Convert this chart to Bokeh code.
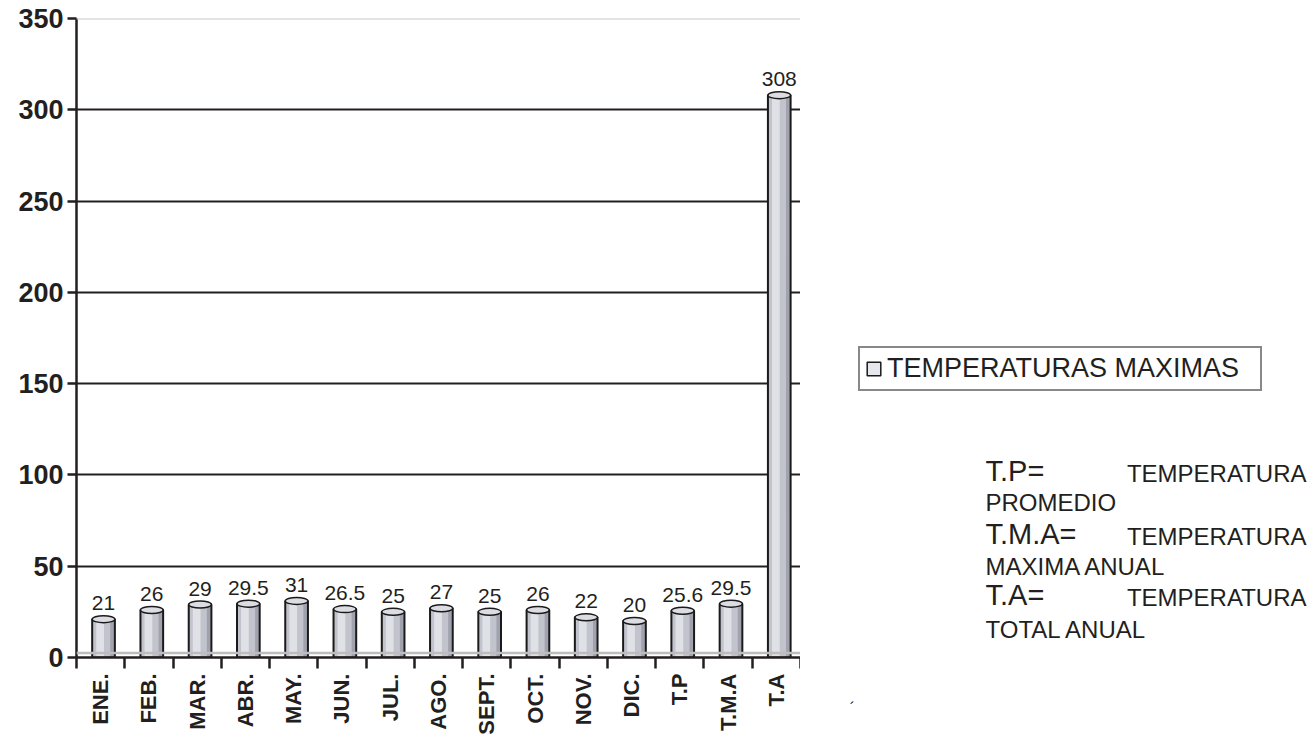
import math
from bokeh.plotting import figure
from bokeh.layouts import row
from bokeh.models import (ColumnDataSource, Range1d, FixedTicker, Span, Label,
                          Legend, LegendItem, LinearAxis)
from bokeh.transform import dodge
from bokeh.core.properties import value
from bokeh.embed import file_html
from bokeh.resources import INLINE

# ---------------- data ----------------
categories = ["ENE.", "FEB.", "MAR.", "ABR.", "MAY.", "JUN.", "JUL.", "AGO.",
              "SEPT.", "OCT.", "NOV.", "DIC.", "T.P", "T.M.A", "T.A"]
temperaturas_maximas = [21, 26, 29, 29.5, 31, 26.5, 25, 27, 25, 26, 22, 20,
                        25.6, 29.5, 308]
y_ticks = [0, 50, 100, 150, 200, 250, 300, 350]
grid_ticks = [50, 100, 150, 200, 250, 300]
series_name = "TEMPERATURAS MAXIMAS"
note_abbr = ["T.P=", "T.M.A=", "T.A="]
note_word = ["TEMPERATURA", "TEMPERATURA", "TEMPERATURA"]
note_rest = ["PROMEDIO", "MAXIMA ANUAL", "TOTAL ANUAL"]
stray_mark = "´"

# --------------------------------------
FONT = "Liberation Sans"
INK = "#231f20"
n = len(categories)
centers = [i + 0.5 for i in range(n)]
bounds = list(range(n + 1))

src = ColumnDataSource(dict(
    x=centers,
    top=temperaturas_maximas,
    label=[f"{v:g}" for v in temperaturas_maximas],
))

FRAME_H = 639
p = figure(frame_width=724, frame_height=FRAME_H,
           x_range=Range1d(0, n), y_range=Range1d(0, 350),
           output_backend="svg", toolbar_location=None,
           min_border_left=76, min_border_right=0,
           min_border_top=18, min_border_bottom=0)
p.outline_line_color = None
p.background_fill_color = "white"
p.border_fill_color = "white"

# grid
p.xgrid.visible = False
p.ygrid.ticker = FixedTicker(ticks=grid_ticks)
p.ygrid.grid_line_color = INK
p.ygrid.grid_line_width = 2

p.add_layout(Span(location=350, dimension="width", line_color="#c8c8c8", line_width=2))
p.add_layout(Span(location=2.5, dimension="width", line_color="#bdbdbd", line_width=2.5))

# x axis
xa = p.xaxis[0]
xa.ticker = FixedTicker(ticks=centers, minor_ticks=bounds)
xa.major_label_overrides = {c: lab for c, lab in zip(centers, categories)}
xa.major_tick_out = 0
xa.major_tick_in = 0
xa.minor_tick_out = 11
xa.minor_tick_in = 0
xa.minor_tick_line_width = 2.5
xa.minor_tick_line_color = INK
xa.axis_line_width = 2.5
xa.axis_line_color = INK
xa.major_label_orientation = math.pi / 2
xa.major_label_standoff = 5
xa.major_label_text_font = FONT
xa.major_label_text_font_style = "bold"
xa.major_label_text_font_size = "22px"
xa.major_label_text_color = INK

# y axis
ya = p.yaxis[0]
ya.ticker = FixedTicker(ticks=y_ticks)
ya.major_tick_out = 9
ya.major_tick_in = 0
ya.minor_tick_out = 0
ya.minor_tick_in = 0
ya.major_tick_line_width = 2.5
ya.major_tick_line_color = INK
ya.axis_line_width = 2.5
ya.axis_line_color = INK
ya.major_label_standoff = 4
ya.major_label_text_font = FONT
ya.major_label_text_font_style = "bold"
ya.major_label_text_font_size = "27px"
ya.major_label_text_color = INK

# cylinder-like bars
BW = 0.47
OFF = 0.06
p.vbar(x=dodge("x", OFF, range=p.x_range), top="top", bottom=0, width=BW,
       source=src, fill_color="#a0a2ae", line_color=None)
p.vbar(x=dodge("x", OFF - 0.04, range=p.x_range), top="top", bottom=0, width=0.36,
       source=src, fill_color="#c2c4cd", line_color=None)
p.vbar(x=dodge("x", OFF - 0.07, range=p.x_range), top="top", bottom=0, width=0.16,
       source=src, fill_color="#e0e1e7", line_color=None)
p.vbar(x=dodge("x", OFF, range=p.x_range), top="top", bottom=0, width=BW,
       source=src, fill_color=None, line_color="#1a1a1a", line_width=2)
p.ellipse(x=dodge("x", OFF, range=p.x_range), y="top", width=BW, height=7,
          height_units="screen", source=src, fill_color="#dcdde3",
          line_color="#1a1a1a", line_width=1.5)

p.text(x=dodge("x", OFF, range=p.x_range), y="top", text="label", source=src,
       text_align="center", text_baseline="middle", y_offset=-16,
       text_font=value(FONT), text_font_size="21px", text_color=INK)

# ---------------- right-hand panel: legend and notes ----------------
# its data coordinates are the page's pixel coordinates (y downwards)
p2 = figure(frame_width=514, frame_height=FRAME_H,
            x_range=Range1d(800, 1314), y_range=Range1d(18 + FRAME_H, 18),
            x_axis_type=None, y_axis_type=None,
            output_backend="svg", toolbar_location=None,
            min_border_left=0, min_border_right=0, min_border_top=18,
            min_border_bottom=83)
p2.outline_line_color = None
p2.xgrid.visible = False
p2.ygrid.visible = False

# legend proxy (hidden renderer; only its legend swatch is shown)
proxy = p2.vbar(x="x", top="top", width=0.5, source=src, fill_color="#e6e7ec",
                line_color="#1a1a1a", line_width=1.5, visible=False)
legend = Legend(items=[LegendItem(label=series_name, renderers=[proxy])],
                location=(58, 266), orientation="vertical",
                border_line_color="#111111", border_line_width=2.5,
                padding=5, margin=0, spacing=0,
                glyph_width=17, glyph_height=17, label_standoff=5,
                label_text_font=FONT, label_text_font_size="27px",
                label_text_color=INK, label_width=368,
                background_fill_color="white", background_fill_alpha=1)
p2.add_layout(legend)

# notes: baselines in page pixels
BIG, SMALL = 29, 24
line1 = [481, 544, 605]
line2 = [510, 574, 637]
for i in range(len(note_abbr)):
    p2.add_layout(Label(x=985, y=line1[i] - 0.35 * BIG, text=note_abbr[i],
                        text_font=FONT, text_font_size=f"{BIG}px", text_color=INK,
                        text_baseline="middle", text_align="left"))
    p2.add_layout(Label(x=1306, y=line1[i] - 0.35 * SMALL, text=note_word[i],
                        text_font=FONT, text_font_size=f"{SMALL}px", text_color=INK,
                        text_baseline="middle", text_align="right"))
    p2.add_layout(Label(x=985, y=line2[i] - 0.35 * SMALL, text=note_rest[i],
                        text_font=FONT, text_font_size=f"{SMALL}px", text_color=INK,
                        text_baseline="middle", text_align="left"))

# the small stray mark below the legend area, drawn as a lone axis label
mark_axis = LinearAxis(ticker=FixedTicker(ticks=[852]),
                       major_label_overrides={852: stray_mark},
                       axis_line_color=None, major_tick_line_color=None,
                       minor_tick_line_color=None, major_tick_out=0,
                       major_label_standoff=42,
                       major_label_text_font=FONT,
                       major_label_text_font_size="16px",
                       major_label_text_color=INK)
p2.add_layout(mark_axis, "below")

layout = row(p, p2, spacing=0)
open("out.html", "w").write(file_html(layout, INLINE))
